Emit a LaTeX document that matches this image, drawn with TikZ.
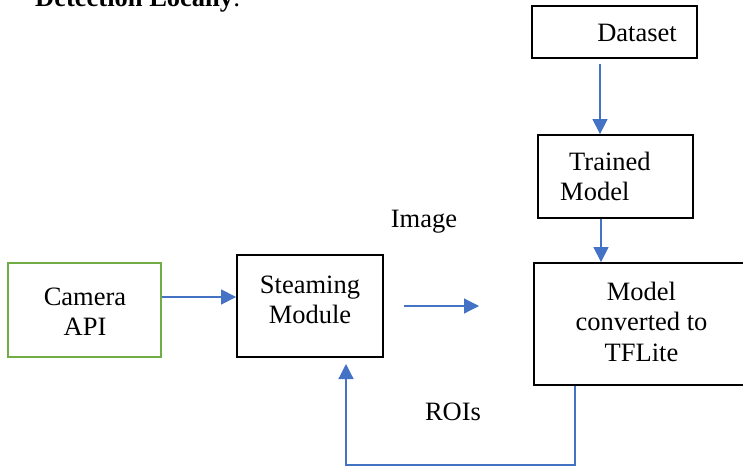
\documentclass[tikz,border=0pt]{standalone}
\usepackage{fontspec}
\setmainfont{Liberation Serif}
\usetikzlibrary{arrows.meta}
\definecolor{flowblue}{HTML}{4472C4}
\definecolor{camgreen}{HTML}{70AD47}
\tikzset{
  box/.style={draw=black, line width=1.8pt, rectangle, inner sep=0pt},
  greenbox/.style={draw=camgreen, line width=1.8pt, rectangle, inner sep=0pt},
  lbl/.style={inner sep=0pt, font=\fontsize{26.5}{30.5}\selectfont},
  flow/.style={draw=flowblue, line width=1.2pt, -{Triangle[length=15pt,width=15pt]}}
}
\begin{document}
\begin{tikzpicture}[x=1pt, y=-1pt]
\useasboundingbox (0,0) rectangle (743,468);
\clip (0,0) rectangle (743,468);

% heading
\node[lbl, anchor=base west] (head) at (35,7) {{\bfseries Detection Locally}:};

% boxes
\node[box, minimum width=165pt, minimum height=52pt] (ds) at (614.5,32) {};
\node[box, minimum width=155pt, minimum height=83pt] (tm) at (615.5,176.5) {};
\node[box, minimum width=226pt, minimum height=122pt] (mdl) at (647,324) {};
\node[greenbox, minimum width=153pt, minimum height=94pt] (cam) at (84.5,310) {};
\node[box, minimum width=146pt, minimum height=102pt] (stm) at (310,306) {};

% box texts
\node[lbl, anchor=base] (dstxt) at (637,42) {Dataset};
\node[lbl, anchor=west, align=left] (tmtxt) at (560,179.2) {\strut\hspace*{9pt}Trained\\\strut Model};
\node[lbl, align=center] (mdltxt) at (641.5,324.4) {\strut Model\\\strut converted to\\\strut TFLite};
\node[lbl, align=center] (camtxt) at (85,314.2) {\strut Camera\\\strut API};
\node[lbl, align=center] (stmtxt) at (310,302.2) {\strut Steaming\\\strut Module};

% free labels
\node[lbl, anchor=base] (imglbl) at (424,227) {Image};
\node[lbl, anchor=base] (roilbl) at (453,420) {ROIs};

% connectors
\draw[flow] (cam.east |- 0,297) -- (stm.west |- 0,297);
\coordinate (imgA) at (404,306);
\coordinate (imgB) at (479,306);
\draw[flow] (imgA) -- (imgB);
\draw[flow] ([yshift=-5pt]ds.south -| 600,0) -- (tm.north -| 600,0);
\draw[flow] (tm.south -| 601,0) -- (mdl.north -| 601,0);
\coordinate (roiEnd) at (346,364);
\draw[flow] (mdl.south -| 575,0) -- (575,465) -- (346,465) -- (roiEnd);
\end{tikzpicture}
\end{document}
